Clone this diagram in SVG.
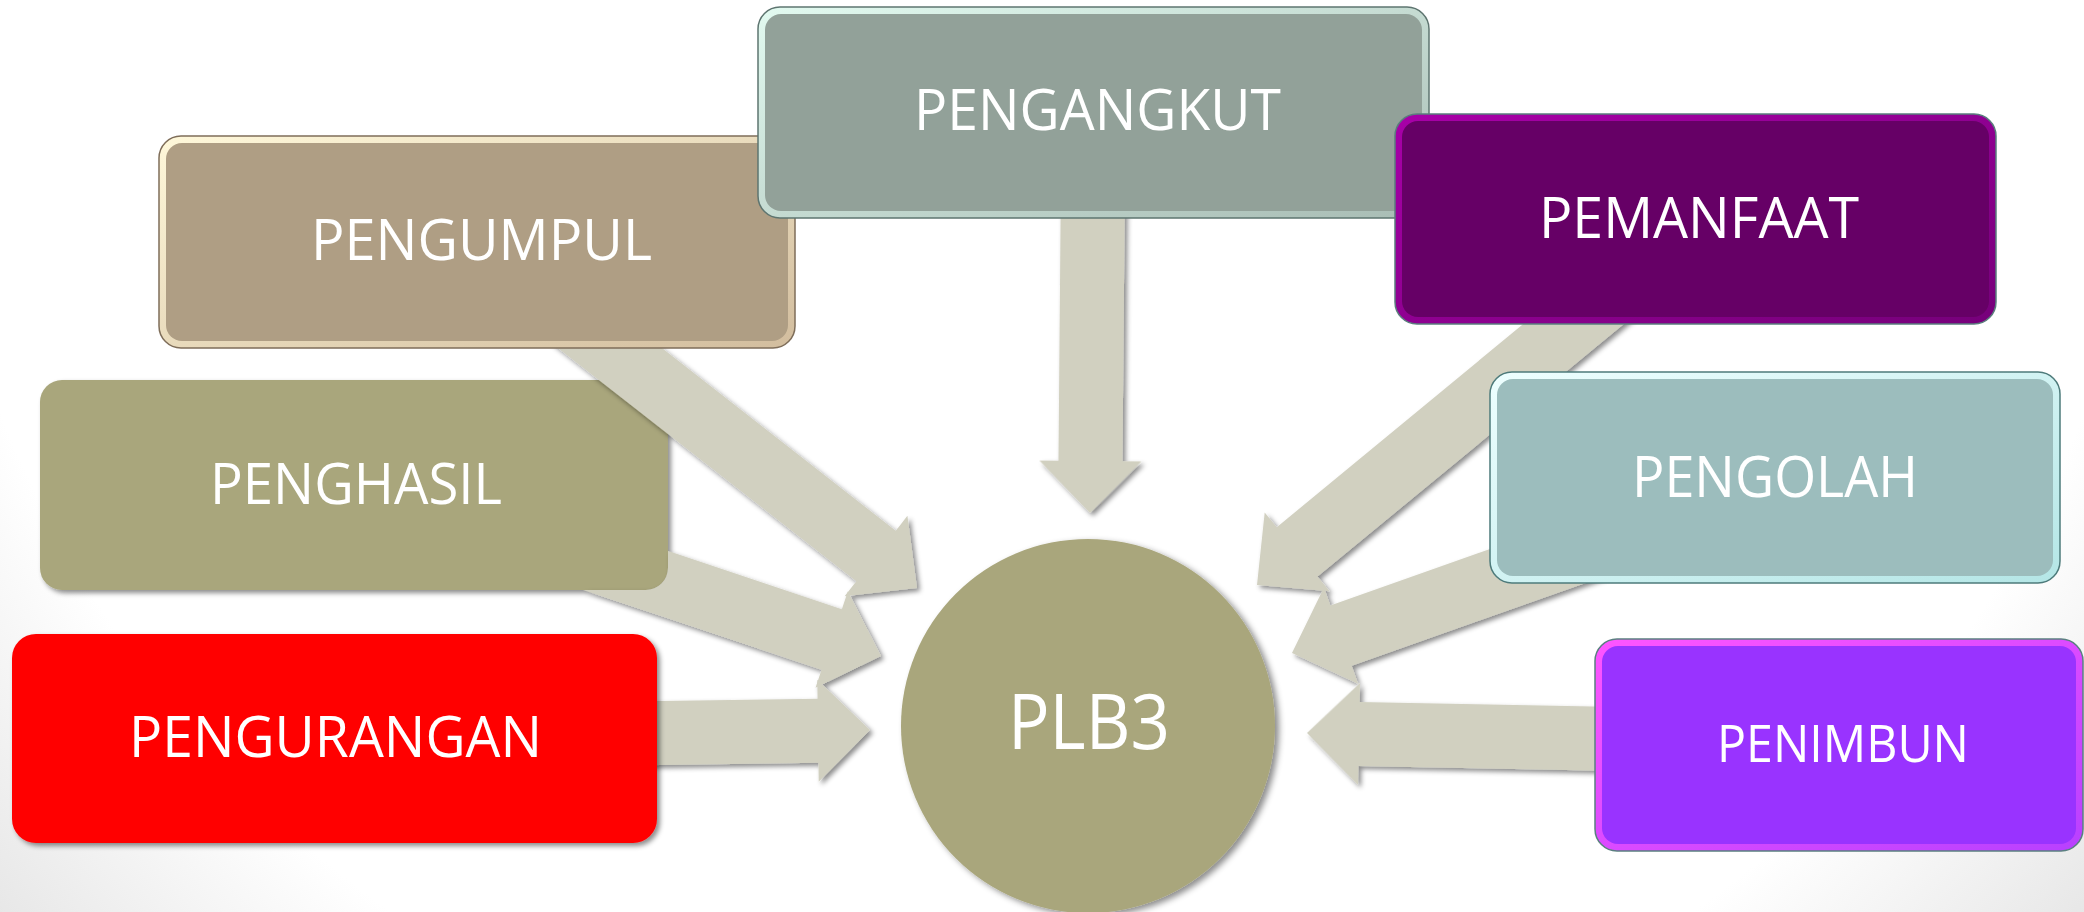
<svg xmlns="http://www.w3.org/2000/svg" xmlns:xlink="http://www.w3.org/1999/xlink" width="2084" height="912" viewBox="0 0 2084 912">
<defs>
<style>
.lbl{font-family:"Open Sans","Liberation Sans",sans-serif;fill:#ffffff;font-size:56px}
.arrow{fill:#D1D0C0}
</style>
<radialGradient id="bg" cx="1042" cy="0" r="1400" gradientUnits="userSpaceOnUse">
<stop offset="0" stop-color="#ffffff"/><stop offset="0.8" stop-color="#ffffff"/><stop offset="1" stop-color="#e6e6e6"/>
</radialGradient>
<filter id="sh" x="-10%" y="-10%" width="130%" height="130%">
<feDropShadow dx="3" dy="3" stdDeviation="2.5" flood-color="#000" flood-opacity="0.45"/>
</filter>
<filter id="shc" x="-10%" y="-10%" width="130%" height="130%">
<feDropShadow dx="4" dy="3" stdDeviation="3" flood-color="#000" flood-opacity="0.45"/>
</filter>
<linearGradient id="gTan" x1="0" y1="0" x2="1" y2="1"><stop offset="0" stop-color="#FFF8DA"/><stop offset="1" stop-color="#D2BD9E"/></linearGradient>
<linearGradient id="gGrey" x1="0" y1="0" x2="1" y2="1"><stop offset="0" stop-color="#E2FAF0"/><stop offset="1" stop-color="#A8BCB4"/></linearGradient>
<linearGradient id="gPlum" x1="0" y1="0" x2="1" y2="1"><stop offset="0" stop-color="#A800A8"/><stop offset="1" stop-color="#76007A"/></linearGradient>
<linearGradient id="gTeal" x1="0" y1="0" x2="1" y2="1"><stop offset="0" stop-color="#EEFFFF"/><stop offset="1" stop-color="#B4E6E6"/></linearGradient>
<linearGradient id="gVio" x1="0" y1="0" x2="1" y2="1"><stop offset="0" stop-color="#FF55FF"/><stop offset="1" stop-color="#B840FF"/></linearGradient>
<polygon id="arr" points="-480,-32 -52,-32 -52,-51 0,0 -52,51 -52,32 -480,32"/>
<clipPath id="outsidePenghasil" clipPathUnits="userSpaceOnUse">
<path clip-rule="evenodd" d="M0,0H2084V912H0Z M62,380 H646 A22,22 0 0 1 668,402 V568 A22,22 0 0 1 646,590 H62 A22,22 0 0 1 40,568 V402 A22,22 0 0 1 62,380Z"/>
</clipPath>
</defs>

<rect x="0" y="0" width="2084" height="912" fill="url(#bg)"/>

<g id="node-penghasil">
<rect x="40" y="380" width="628" height="210" rx="22" fill="#A9A67C" filter="url(#sh)"/>
<text class="lbl" x="210" y="504" textLength="292" lengthAdjust="spacingAndGlyphs">PENGHASIL</text>
</g>

<g id="connectors" class="arrow" filter="url(#sh)">
<use xlink:href="#arr" href="#arr" transform="translate(917,588) rotate(38)"/>
<g clip-path="url(#outsidePenghasil)">
<use xlink:href="#arr" href="#arr" transform="translate(881,656) rotate(18.5)"/>
</g>
<use xlink:href="#arr" href="#arr" transform="translate(870,730) rotate(-0.8)"/>
<use xlink:href="#arr" href="#arr" transform="translate(1090,513) rotate(90.5)"/>
<use xlink:href="#arr" href="#arr" transform="translate(1257,585) rotate(140.5)"/>
<use xlink:href="#arr" href="#arr" transform="translate(1292,653) rotate(160.5)"/>
<use xlink:href="#arr" href="#arr" transform="translate(1307,733) rotate(181.1)"/>
</g>

<g id="node-pengumpul">
<rect x="159" y="136" width="636" height="212" rx="22" fill="url(#gTan)" stroke="#7F6E5A" stroke-width="1.5"/>
<rect x="166" y="143" width="622" height="198" rx="16" fill="#AF9E84"/>
<text class="lbl" x="311" y="260" textLength="341" lengthAdjust="spacingAndGlyphs">PENGUMPUL</text>
</g>

<g id="node-pengangkut">
<rect x="758" y="7" width="671" height="211" rx="22" fill="url(#gGrey)" stroke="#5E7570" stroke-width="1.5"/>
<rect x="765" y="14" width="657" height="197" rx="16" fill="#92A199"/>
<text class="lbl" x="914" y="130" textLength="367" lengthAdjust="spacingAndGlyphs">PENGANGKUT</text>
</g>

<g id="node-pemanfaat">
<rect x="1395" y="114" width="601" height="210" rx="22" fill="url(#gPlum)" stroke="#5A7D7D" stroke-width="1.5"/>
<rect x="1402" y="121" width="587" height="196" rx="16" fill="#660066"/>
<text class="lbl" x="1539" y="238" textLength="320" lengthAdjust="spacingAndGlyphs">PEMANFAAT</text>
</g>

<g id="node-pengolah">
<rect x="1490" y="372" width="570" height="211" rx="22" fill="url(#gTeal)" stroke="#4E7B7B" stroke-width="1.5"/>
<rect x="1497" y="379" width="556" height="197" rx="16" fill="#9CBDBD"/>
<text class="lbl" x="1632" y="497" textLength="286" lengthAdjust="spacingAndGlyphs">PENGOLAH</text>
</g>

<g id="node-pengurangan">
<rect x="12" y="634" width="645" height="209" rx="24" fill="#FF0000" filter="url(#sh)"/>
<text class="lbl" x="129" y="757" textLength="413" lengthAdjust="spacingAndGlyphs">PENGURANGAN</text>
</g>

<g id="node-penimbun">
<rect x="1595" y="639" width="488" height="212" rx="22" fill="url(#gVio)" stroke="#5A8080" stroke-width="1.5"/>
<rect x="1602" y="646" width="474" height="198" rx="16" fill="#9933FF"/>
<text class="lbl" x="1717" y="762" textLength="252" lengthAdjust="spacingAndGlyphs" style="font-size:52px">PENIMBUN</text>
</g>

<g id="node-plb3">
<circle cx="1088" cy="726" r="187" fill="#A9A67C" filter="url(#shc)"/>
<text class="lbl" x="1008" y="749" textLength="162" lengthAdjust="spacingAndGlyphs" style="font-size:76px">PLB3</text>
</g>
</svg>
